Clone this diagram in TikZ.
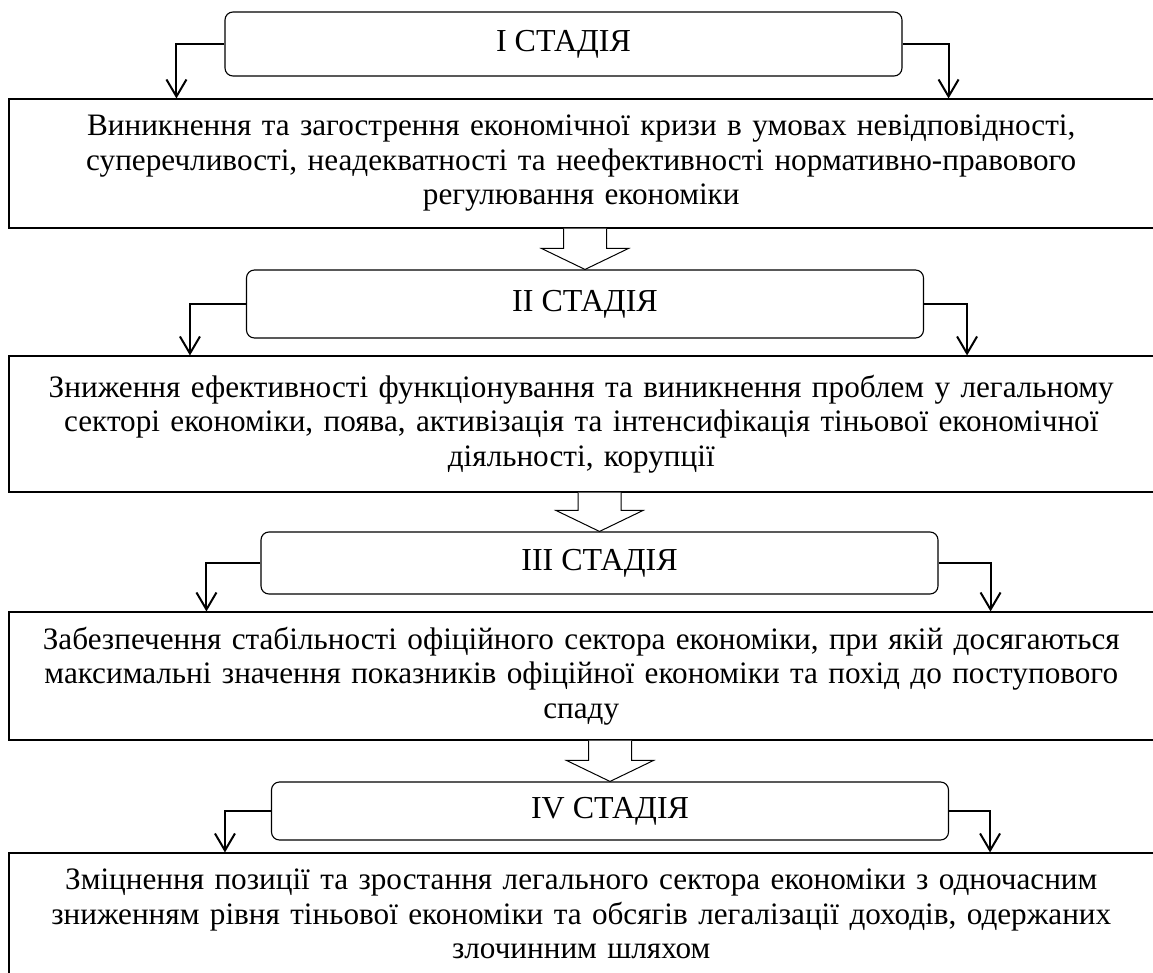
\documentclass[tikz,border=0pt]{standalone}
\usepackage{fontspec}
\setmainfont{Liberation Serif}
\usetikzlibrary{arrows.meta}

\tikzset{
  stagebox/.style={draw, rectangle, rounded corners=8pt, line width=1.1pt, minimum width=677pt, inner sep=0pt, font=\fontsize{32}{36}\selectfont},
  descbox/.style={draw, rectangle, line width=1.1pt, minimum width=1144.5pt, text width=1130pt, align=center, inner sep=0pt},
  sidearrow/.style={line width=2pt, -{Straight Barb[length=17pt, width=20pt]}},
  hollow/.style={draw, fill=white, line width=1pt, line join=miter}
}

\begin{document}
\begin{tikzpicture}[x=1pt, y=-1pt, font=\fontsize{31.2}{34.5}\selectfont]
    \useasboundingbox (0,0) rectangle (1153,973);

    % Stages
    \node[stagebox, minimum height=64pt] (s1) at (563.5,44) {I СТАДІЯ};
    \node[stagebox, minimum height=68pt] (s2) at (585,304) {II СТАДІЯ};
    \node[stagebox, minimum height=62pt] (s3) at (599.5,563) {III СТАДІЯ};
    \node[stagebox, minimum height=58pt] (s4) at (610,811) {IV СТАДІЯ};

    % Descriptions
    \node[descbox, minimum height=129pt] (d1) at (581.25,163.5) {Виникнення та загострення економічної кризи в умовах невідповідності,\\суперечливості, неадекватності та неефективності нормативно-правового\\регулювання економіки};
    \node[descbox, minimum height=136pt] (d2) at (581.25,424) {Зниження ефективності функціонування та виникнення проблем у легальному\\секторі економіки, поява, активізація та інтенсифікація тіньової економічної\\діяльності, корупції};
    \node[descbox, minimum height=128pt] (d3) at (581.25,676) {Забезпечення стабільності офіційного сектора економіки, при якій досягаються\\максимальні значення показників офіційної економіки та похід до поступового\\спаду};
    \node[descbox, minimum height=122pt] (d4) at (581.25,914) {Зміцнення позиції та зростання легального сектора економіки з одночасним\\зниженням рівня тіньової економіки та обсягів легалізації доходів, одержаних\\злочинним шляхом};

    % Side arrows
    \foreach \s/\d/\l/\r in {s1/d1/48/46, s2/d2/56/43, s3/d3/54/52, s4/d4/46/41} {
        \draw[sidearrow] (\s.west) -| ([xshift=-\l]\s.west |- \d.north);
        \draw[sidearrow] (\s.east) -| ([xshift=\r]\s.east |- \d.north);
    }

    % Hollow arrows
    \foreach \d/\s in {d1/s2, d2/s3, d3/s4} {
        \draw[hollow] ([xshift=-21.5]\d.south -| \s.north) |- ([xshift=-43.5, yshift=21]\s.north)
            -- (\s.north) -- ([xshift=43.5, yshift=21]\s.north) -| ([xshift=21.5]\d.south -| \s.north);
    }
\end{tikzpicture}
\end{document}
